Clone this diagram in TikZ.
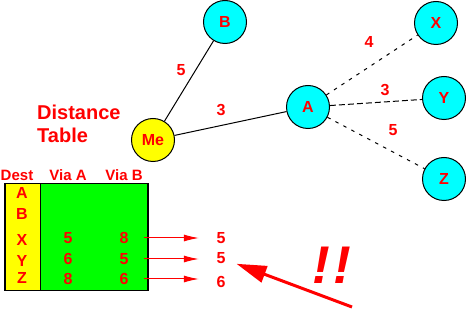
\documentclass[tikz,border=0pt]{standalone}
\usepackage{fontspec}
\setmainfont{Liberation Sans}
\usetikzlibrary{arrows.meta,positioning,calc}
\definecolor{rtCyan}{RGB}{0,255,255}
\definecolor{rtYellow}{RGB}{255,255,0}
\definecolor{rtGreen}{RGB}{0,255,0}
\definecolor{rtRed}{RGB}{255,0,0}
\tikzset{
    rtNode/.style={
        circle,
        draw=black,
        line width=1pt,
        fill=rtCyan,
        minimum size=43pt,
        inner sep=0pt,
        font=\fontsize{16}{19}\selectfont\bfseries,
        text=rtRed
    },
    % Variants
    rtSelf/.style={rtNode, fill=rtYellow},
    rtWeight/.style={font=\fontsize{16}{19}\selectfont\bfseries, text=rtRed, inner sep=1pt},
    % Links
    rtLink/.style={line width=1pt, draw=black},
    rtFar/.style={rtLink, dash pattern=on 3.5pt off 5.5pt},
    rtNear/.style={rtLink, dash pattern=on 6pt off 3pt}
}
\begin{document}
\begin{tikzpicture}[x=1pt, y=-1pt,
    cell/.style={font=\fontsize{16}{19}\selectfont\bfseries, text=rtRed, inner sep=1pt},
    head/.style={font=\fontsize{15}{18}\selectfont\bfseries, text=rtRed, inner sep=1pt},
    rowArr/.style={-{Latex[length=15pt,width=7pt]}, rtRed, line width=1pt}
]
\useasboundingbox (0,0) rectangle (467,310);

% Routers
\node[rtSelf] (nme) at (153,140) {Me};
\node[rtNode] (nb) at (225,22) {B};
\node[rtNode] (na) at (308,107) {A};
\node[rtNode] (nx) at (436,23) {X};
\node[rtNode] (ny) at (444,98) {Y};
\node[rtNode] (nz) at (444,179) {Z};

% Links and costs
\draw[rtLink] (nme) -- (nb);
\draw[rtLink] (nme) -- (na);
\draw[rtFar] (na) -- (nx);
\draw[rtNear] (na) -- (ny);
\draw[rtFar] (na) -- (nz);
\node[rtWeight] (wb) at (181,70) {5};
\node[rtWeight] (wa) at (221,110) {3};
\node[rtWeight] (wx) at (369,42) {4};
\node[rtWeight] (wy) at (385,90) {3};
\node[rtWeight] (wz) at (393,130) {5};

\node[font=\fontsize{20}{23}\selectfont\bfseries, text=rtRed, align=left, anchor=north west, inner sep=0pt] (ttl) at (37,105) {Distance\\Table};

% Table
\draw[line width=1.6pt, fill=rtGreen] (5,183.5) rectangle (148,290.7);
\draw[line width=1.6pt, fill=rtYellow] (5,183.5) rectangle (40.3,290.7);
\node[head] (hd) at (17,175) {Dest};
\node[head] (hva) at (68,175) {Via A};
\node[head] (hvb) at (124,175) {Via B};
\foreach \d/\yy in {A/193,B/214,X/240,Y/261,Z/278} {
    \node[cell] (dest\d) at (22,\yy) {\d};
}
\foreach \i/\va/\vb/\yy in {1/5/8/238, 2/6/5/259, 3/8/6/279} {
    \node[cell] (va\i) at (68,\yy) {\va};
    \node[cell] (vb\i) at (124,\yy) {\vb};
}

% Best routes
\foreach \i/\r/\yy in {1/5/238, 2/5/258, 3/6/282} {
    \node[cell] (res\i) at (221,\yy) {\r};
    \draw[rowArr, shorten <=14.5pt, shorten >=16.5pt] (vb\i.east) -- (vb\i.east -| res\i.west);
}

\node[font=\fontsize{53}{60}\selectfont\bfseries\itshape, text=rtRed, inner sep=0pt] (bang) at (332,265) {!\kern4pt!};
\coordinate (tail) at (352,307);
\draw[line width=3pt, rtRed, -{Triangle[length=30pt,width=17pt]}, shorten >=10.5pt] (tail) -- (res2);
\end{tikzpicture}
\end{document}
